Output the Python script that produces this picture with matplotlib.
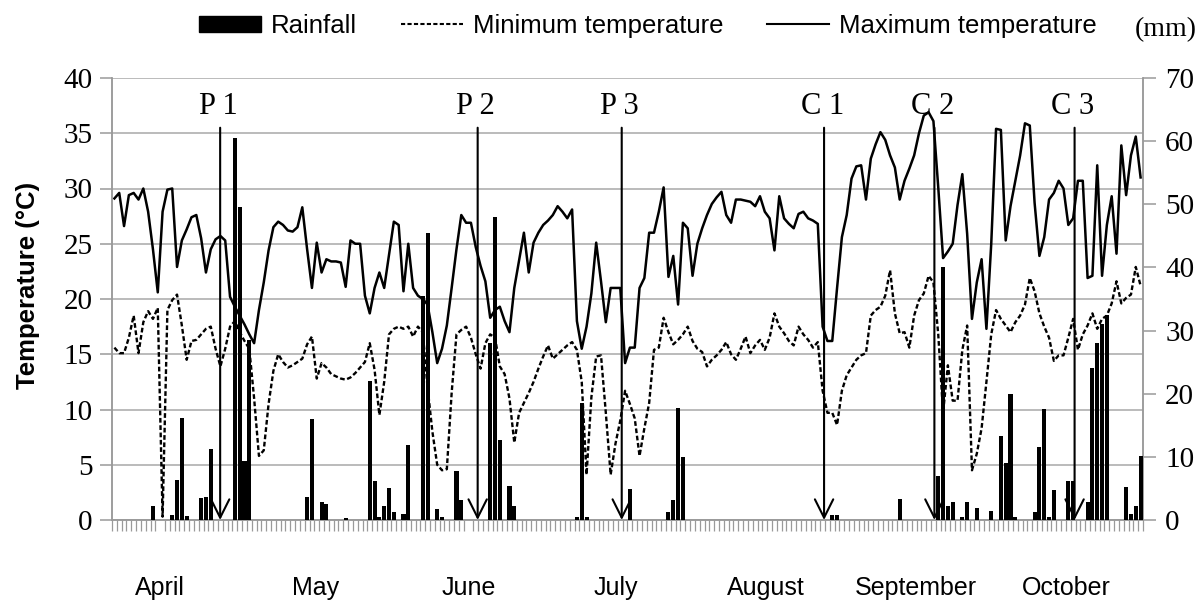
import numpy as np
import matplotlib
matplotlib.use("Agg")
import matplotlib.pyplot as plt
from matplotlib.patches import Patch
from matplotlib.lines import Line2D

# ---------------- data (daily, 1 April - 31 October) ----------------
tmax = [29.1, 29.6, 26.6, 29.4, 29.6, 29.0, 30.0, 27.9, 24.5, 20.6,
        27.9, 29.9, 30.0, 22.9, 25.3, 26.3, 27.4, 27.6, 25.5, 22.4,
        24.5, 25.4, 25.7, 25.3, 20.2, 19.3, 18.5, 17.7, 16.8, 16.0,
        19.0, 21.5, 24.4, 26.5, 27.0, 26.7, 26.2, 26.1, 26.5, 28.3,
        24.5, 21.0, 25.1, 22.4, 23.6, 23.4, 23.4, 23.3, 21.1, 25.3,
        25.0, 25.0, 20.3, 18.7, 21.0, 22.4, 21.0, 24.0, 27.0, 26.7,
        20.7, 25.0, 21.0, 20.3, 20.0, 19.5, 17.0, 14.2, 15.5, 17.6,
        21.0, 24.5, 27.6, 26.9, 26.9, 24.7, 23.0, 21.6, 18.3, 19.0,
        19.3, 18.0, 17.0, 21.0, 23.5, 26.0, 22.4, 25.1, 26.0, 26.7,
        27.1, 27.6, 28.4, 27.9, 27.3, 28.1, 18.0, 15.5, 17.5, 20.5,
        25.1, 21.6, 17.9, 21.0, 21.0, 21.0, 14.2, 15.6, 15.6, 21.0,
        21.9, 26.0, 26.0, 27.9, 30.1, 22.0, 23.9, 19.5, 26.9, 26.4,
        22.1, 25.0, 26.4, 27.6, 28.6, 29.2, 29.7, 27.6, 26.9, 29.0,
        29.0, 28.9, 28.8, 28.4, 29.3, 27.9, 27.3, 24.4, 29.3, 27.3,
        26.8, 26.4, 27.7, 27.9, 27.3, 27.1, 26.8, 17.5, 16.2, 16.2,
        21.0, 25.6, 27.6, 30.9, 32.0, 32.1, 29.0, 32.7, 34.0, 35.1,
        34.4, 33.0, 31.9, 29.0, 30.7, 31.8, 33.0, 35.0, 36.6, 36.9,
        36.1, 30.1, 23.7, 24.3, 25.0, 28.5, 31.3, 25.9, 18.2, 21.5,
        23.6, 17.3, 25.0, 35.4, 35.3, 25.3, 28.4, 30.7, 33.0, 35.9,
        35.7, 28.7, 23.9, 25.6, 29.0, 29.6, 30.7, 30.0, 26.7, 27.3,
        30.7, 30.7, 21.9, 22.1, 32.1, 22.1, 26.7, 29.3, 24.1, 33.9,
        29.4, 33.0, 34.7, 31.0]

tmin = [15.6, 15.1, 15.1, 16.5, 18.5, 15.1, 17.9, 18.9, 18.2, 19.2,
        0.3, 19.0, 19.9, 20.4, 17.6, 14.5, 16.2, 16.3, 16.8, 17.3,
        17.5, 15.5, 13.9, 15.5, 17.5, 18.0, 17.0, 16.2, 15.5, 11.0,
        5.8, 6.3, 10.5, 13.5, 15.0, 14.3, 13.8, 14.0, 14.3, 14.6,
        15.9, 16.6, 12.8, 14.2, 13.8, 13.2, 13.0, 12.8, 12.7, 12.9,
        13.3, 13.8, 14.3, 16.0, 13.6, 9.5, 12.5, 16.8, 17.3, 17.5,
        17.3, 17.5, 16.6, 17.5, 17.0, 12.0, 8.0, 5.0, 4.5, 4.6,
        11.5, 16.8, 17.2, 17.5, 16.5, 15.0, 13.7, 16.0, 16.8, 16.5,
        13.9, 13.2, 11.0, 7.0, 9.7, 10.6, 11.5, 12.5, 13.7, 14.8,
        15.8, 14.6, 15.0, 15.4, 15.8, 16.1, 15.4, 12.5, 4.1, 11.1,
        14.8, 14.9, 9.7, 4.1, 6.9, 9.0, 11.7, 10.5, 9.2, 5.8,
        8.3, 10.6, 15.4, 15.6, 18.3, 17.0, 15.9, 16.3, 16.8, 17.5,
        16.2, 15.5, 15.2, 13.9, 14.5, 14.9, 15.4, 16.1, 15.0, 14.5,
        15.5, 16.6, 15.1, 15.8, 16.3, 15.4, 16.5, 18.7, 17.5, 16.9,
        16.2, 15.8, 17.5, 16.8, 16.3, 15.6, 16.1, 11.7, 9.7, 9.7,
        8.6, 11.7, 13.1, 13.8, 14.5, 14.9, 15.1, 18.5, 19.0, 19.3,
        20.3, 22.6, 18.7, 16.9, 17.0, 15.6, 18.5, 19.9, 20.5, 22.1,
        21.5, 16.8, 9.7, 14.0, 10.8, 10.8, 15.4, 17.6, 4.5, 6.0,
        8.3, 12.5, 16.8, 19.0, 18.2, 17.6, 17.0, 17.9, 18.5, 19.5,
        21.9, 20.7, 18.7, 17.5, 16.5, 14.4, 14.9, 14.9, 16.5, 18.2,
        15.4, 16.8, 17.6, 18.7, 17.3, 18.2, 18.5, 19.6, 21.6, 19.6,
        20.1, 20.4, 22.9, 21.2]

rain_days = [8, 12, 13, 14, 15, 18, 19, 20, 25, 26, 27, 28,
             40, 41, 43, 44, 48, 53, 54, 55, 56, 57, 58, 60, 61, 64, 65,
             67, 68, 71, 72, 78, 79, 80, 82, 83, 96, 97, 98, 107,
             115, 116, 117, 118, 149, 150, 163, 171, 172, 173, 174, 176,
             177, 179, 182, 184, 185, 186, 187, 191, 192, 193, 194, 195,
             198, 199, 202, 203, 204, 205, 206, 210, 211, 212, 213]
rain_mm = [2.2, 0.8, 6.4, 16.2, 0.7, 3.5, 3.7, 11.3, 60.5, 49.5, 9.3, 28.5,
           3.7, 16.0, 2.8, 2.5, 0.35, 22.0, 6.2, 0.5, 2.2, 5.0, 1.2, 1.0, 11.8, 35.5, 45.5,
           1.7, 0.5, 7.8, 3.2, 28.0, 48.0, 12.7, 5.4, 2.2, 0.4, 18.5, 0.5, 4.9,
           1.2, 3.2, 17.8, 9.9, 0.8, 0.8, 3.4, 6.9, 40.0, 2.2, 2.9, 0.4,
           2.9, 1.9, 1.4, 13.3, 9.1, 20.0, 0.4, 1.2, 11.6, 17.6, 0.4, 4.8,
           6.1, 6.1, 2.9, 24.0, 28.0, 31.0, 32.5, 5.3, 1.0, 2.2, 10.1]

months = ["April", "May", "June", "July", "August", "September", "October"]
month_pos = [9.5, 41.7, 73.5, 104.1, 135.3, 166.4, 197.6]

events = ["P 1", "P 2", "P 3", "C 1", "C 2", "C 3"]
event_day = [21.95, 75.4, 105.3, 147.3, 170.2, 199.3]

# ---------------- figure ----------------
SERIF = "Liberation Serif"
SANS = "Liberation Sans"
GREY = "#9a9a9a"

W, H = 1204, 601
fig = plt.figure(figsize=(W / 100, H / 100), dpi=100)
L, R, T, B = 112, 1143, 78, 520
ax = fig.add_axes([L / W, 1 - B / H, (R - L) / W, (B - T) / H])
ax2 = ax.twinx()

days = np.arange(len(tmax))
rain = np.zeros(len(tmax))
rain[rain_days] = rain_mm

ax2.bar(days, rain, width=0.85, color="black", zorder=3)
ax.plot(days, tmin, color="black", lw=1.7, ls=(0, (2.0, 1.1)), zorder=3)
ax.plot(days, tmax, color="black", lw=1.8, zorder=3)

ax.set_xlim(-0.5, len(tmax) - 0.5)
ax.set_ylim(0, 40)
ax2.set_ylim(0, 70)
ax.set_yticks(range(0, 41, 5))
ax2.set_yticks(range(0, 71, 10))

ax.yaxis.grid(True, color="#a8a8a8", lw=1.1)
ax.set_axisbelow(True)

for a in (ax, ax2):
    for s in a.spines.values():
        s.set_color(GREY)
        s.set_linewidth(1.1)
    a.spines["top"].set_visible(False)

ax.tick_params(axis="y", direction="out", length=9, width=1.1, color=GREY,
               labelsize=21, pad=5)
ax2.tick_params(axis="y", direction="out", length=9, width=1.1, color=GREY,
                labelsize=21, pad=7)
for lab in ax.get_yticklabels() + ax2.get_yticklabels():
    lab.set_fontfamily(SERIF)

# x axis: daily minor ticks, month names as major labels
ax.set_xticks(np.arange(-0.5, len(tmax), 1.0), minor=True)
ax.set_xticks(month_pos)
ax.set_xticklabels(months, fontfamily=SANS, fontsize=18)
ax.tick_params(axis="x", which="minor", direction="out", length=8,
               width=0.9, color=GREY)
ax.tick_params(axis="x", which="major", length=0, pad=40)

# event arrows
for name, d in zip(events, event_day):
    ax.annotate("", xy=(d, 0), xytext=(d, 35.5),
                arrowprops=dict(arrowstyle="->,head_length=0.6,head_width=0.3",
                                color="black", lw=1.5, shrinkA=0, shrinkB=0,
                                mutation_scale=22), zorder=4)
    ax.text(d - 0.4, 37.4, name, ha="center", va="center",
            fontfamily=SERIF, fontsize=22)

fig.text(28 / W, 1 - 285 / H, "Temperature (°C)", rotation=90, ha="center",
         va="center", fontfamily=SANS, fontweight="bold", fontsize=18.5)
fig.text(1166 / W, 1 - 30 / H, "(mm)", ha="center", va="center",
         fontfamily=SERIF, fontsize=20)

handles = [Patch(facecolor="black", edgecolor="black"),
           Line2D([], [], color="black", lw=1.5, ls=(0, (2.0, 1.1))),
           Line2D([], [], color="black", lw=1.5)]
labels = ["Rainfall", "Minimum temperature", "Maximum temperature"]
leg = fig.legend(handles, labels, loc="center", bbox_to_anchor=(648 / W, 1 - 26 / H),
                 ncol=3, frameon=False, handlelength=2.4, handleheight=0.6,
                 handletextpad=0.4, columnspacing=1.7,
                 prop={"family": SANS, "size": 18.5})

fig.savefig("out.png", dpi=100)
